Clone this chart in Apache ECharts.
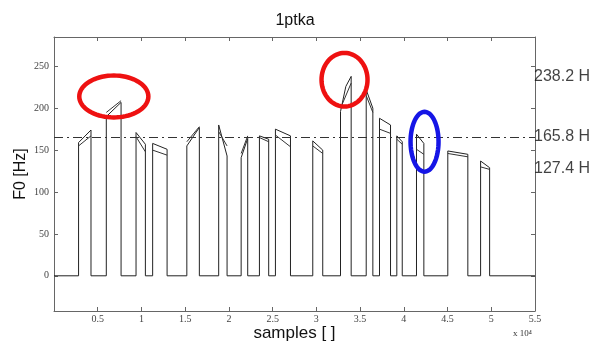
<!DOCTYPE html>
<html><head><meta charset="utf-8">
<script src="https://cdn.jsdelivr.net/npm/echarts@6/dist/echarts.min.js"></script>
<style>html,body{margin:0;padding:0;background:#fff}#c{width:600px;height:344px}</style>
</head><body><div id="c"></div>
<script>
// x in units of 10^4 samples
const segStart = [0.281,0.598,0.938,1.128,1.519,1.883,2.140,2.349,2.532,2.959,3.276,3.570,3.722,3.920,4.145,4.503,4.878];
const segEnd   = [0.423,0.767,1.045,1.293,1.662,1.979,2.215,2.455,2.704,3.073,3.398,3.646,3.848,3.982,4.229,4.732,4.981];
const topStart = [159,190,171,158,155,180,141,167,175,161,196,222,188,167,169,149,137];
const topMid   = [null,null,null,null,null,null,null,null,null,null,226,null,null,null,null,null,null];
const topEnd   = [174,207,157,151,177,143,164,163,167,150,238,200,180,160,158,145,129];
const altStart = [155,195,166,150,160,172,146,165,168,155,200,215,175,163,151,146,130];
const altEnd   = [167,209,148,144,178,155,167,160,154,146,230,195,170,157,145,142,127];
const xStartEnd = [0, 5.5];
const xTickStep = 0.5;
const yTicks = [0,50,100,150,200,250];
const yRange = [-42, 285];
const refValues = [238.2, 165.8, 127.4];
const refLabels = ['238.2 H','165.8 H','127.4 H'];
const dashedRef = 165.8;
// annotation ellipses: center x, center y, radius x, radius y (data units)
const ellX = [0.684, 3.322, 4.237];
const ellY = [214, 234, 160];
const ellRX = [0.395, 0.263, 0.160];
const ellRY = [25, 32, 35.7];
const ellColor = ['#ee1111','#ee1111','#1515e6'];

const mainData = [[xStartEnd[0],0]];
const altData = [];
for (let i=0;i<segStart.length;i++){
  mainData.push([segStart[i],0],[segStart[i],topStart[i]]);
  if (topMid[i]!==null) mainData.push([(segStart[i]+segEnd[i])/2, topMid[i]]);
  mainData.push([segEnd[i],topEnd[i]],[segEnd[i],0]);
  altData.push([segStart[i],altStart[i]],[segEnd[i],altEnd[i]],[segEnd[i],null]);
}
mainData.push([xStartEnd[1],0]);

const axisCol = '#666';
const chart = echarts.init(document.getElementById('c'), null, {renderer:'canvas'});
chart.setOption({
  animation:false,
  grid:{left:54, right:65, top:37, bottom:33, containLabel:false, outerBoundsMode:'none'},
  graphic:[
    {type:'text', x:295, y:21, style:{text:'1ptka', font:'16px "Liberation Sans", Arial', fill:'#111', textAlign:'center', textVerticalAlign:'middle'}},
    {type:'text', x:513, y:334, style:{text:'x 10⁴', font:'9px "Liberation Serif", serif', fill:'#333', textAlign:'left', textVerticalAlign:'middle'}}
  ],
  xAxis:[
    {type:'value', position:'bottom', min:xStartEnd[0], max:xStartEnd[1], interval:xTickStep,
     axisLine:{show:true, onZero:false, lineStyle:{color:axisCol, width:1}},
     axisTick:{show:true, inside:true, length:4, lineStyle:{color:axisCol}},
     axisLabel:{show:true, margin:3, color:'#444', fontSize:10, fontFamily:'"Liberation Serif", serif',
       formatter:v=> v===0 ? '' : String(v)},
     splitLine:{show:false},
     name:'samples [ ]', nameLocation:'middle', nameGap:14, nameMoveOverlap:false,
     nameTextStyle:{fontSize:17, color:'#111', fontFamily:'"Liberation Sans", Arial'}},
    {type:'value', position:'top', min:xStartEnd[0], max:xStartEnd[1], interval:xTickStep,
     axisLine:{show:true, onZero:false, lineStyle:{color:axisCol, width:1}},
     axisTick:{show:true, inside:true, length:4, lineStyle:{color:axisCol}},
     axisLabel:{show:false}, splitLine:{show:false}}
  ],
  yAxis:[
    {type:'value', position:'left', min:yRange[0], max:yRange[1],
     axisLine:{show:true, onZero:false, lineStyle:{color:axisCol, width:1}},
     axisTick:{show:true, inside:true, length:4, customValues:yTicks, lineStyle:{color:axisCol}},
     axisLabel:{show:true, margin:5, customValues:yTicks, color:'#444', fontSize:10, fontFamily:'"Liberation Serif", serif'},
     splitLine:{show:false},
     name:'F0 [Hz]', nameLocation:'middle', nameGap:25, nameRotate:90, nameMoveOverlap:false,
     nameTextStyle:{fontSize:16, color:'#111', fontFamily:'"Liberation Sans", Arial'}},
    {type:'value', position:'right', min:yRange[0], max:yRange[1],
     axisLine:{show:true, onZero:false, lineStyle:{color:axisCol, width:1}},
     axisTick:{show:true, inside:true, length:4, customValues:yTicks, lineStyle:{color:axisCol}},
     axisLabel:{show:false}, splitLine:{show:false}}
  ],
  series:[
    {type:'line', data:mainData, showSymbol:false, symbol:'none', lineStyle:{color:'#222', width:1}, z:3,
     markLine:{silent:true, symbol:['none','none'], label:{show:false},
       lineStyle:{color:'#333', width:1, type:[9,4,2,4]}, data:[{yAxis:dashedRef}]}},
    {type:'line', data:altData, showSymbol:false, symbol:'none', connectNulls:false, lineStyle:{color:'#333', width:1}, z:3},
    {type:'scatter', data:refValues.map((v,i)=>[xStartEnd[1], v, i]), symbolSize:0, silent:true,
     label:{show:true, position:'right', distance:-1, formatter:p=>refLabels[p.data[2]],
       fontSize:16, color:'#111', fontFamily:'"Liberation Sans", Arial'}},
    {type:'custom', clip:false, z:5, silent:true,
     data:ellX.map((x,i)=>[x, ellY[i], ellRX[i], ellRY[i], i]),
     renderItem:(params, api)=>{
       const c = api.coord([api.value(0), api.value(1)]);
       const rx = api.size([api.value(2), 0])[0];
       const ry = api.size([0, api.value(3)])[1];
       const pts = [];
       for (let k=0;k<72;k++){ const t=k/72*Math.PI*2; pts.push([c[0]+rx*Math.cos(t), c[1]+ry*Math.sin(t)]); }
       return {type:'polygon', shape:{points:pts}, style:{fill:'none', stroke:ellColor[api.value(4)], lineWidth:4.5}};
     }}
  ]
});
</script></body></html>
